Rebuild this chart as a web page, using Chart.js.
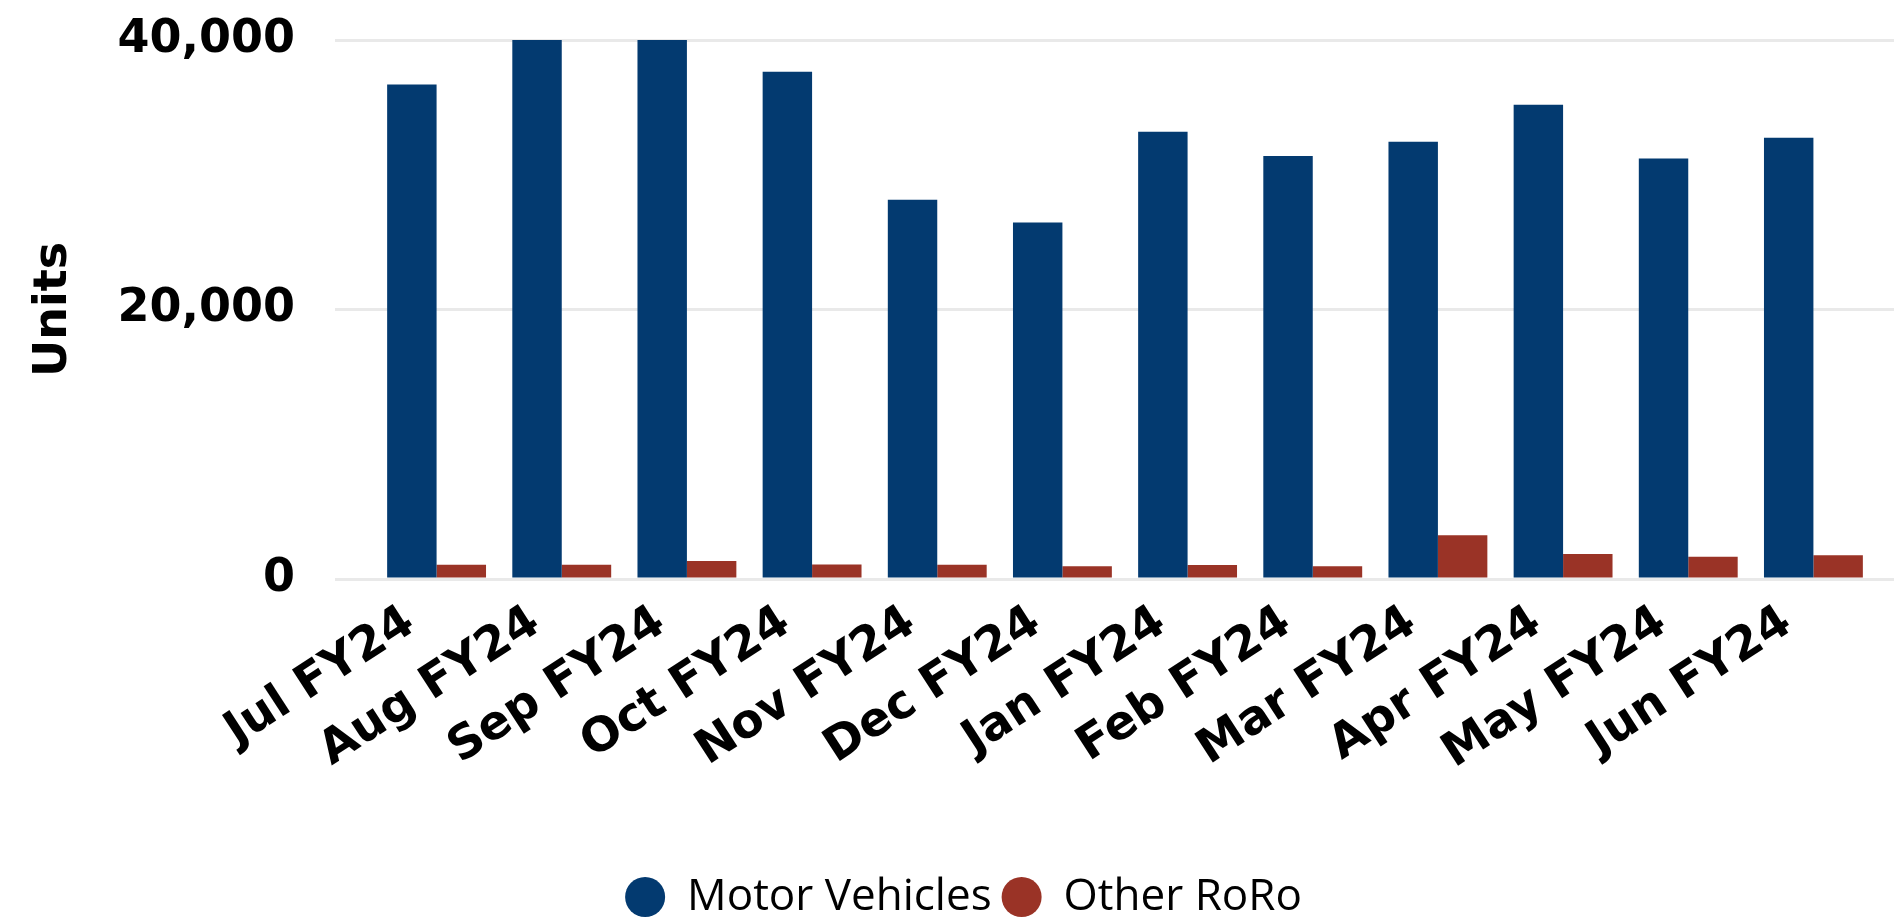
<!DOCTYPE html>
<html>
<head>
<meta charset="utf-8">
<title>Motor Vehicles / Other RoRo</title>
<script src="https://cdn.jsdelivr.net/npm/chart.js@4/dist/chart.umd.min.js"></script>
<style>
    html, body { margin: 0; padding: 0; background: #ffffff; }
    #wrap { width: 1894px; height: 922px; position: relative; }
</style>
</head>
<body>
<div id="wrap"><canvas id="chart1"></canvas></div>
<script>
// Dados do gráfico
const months = ['Jul FY24', 'Aug FY24', 'Sep FY24', 'Oct FY24', 'Nov FY24', 'Dec FY24',
    'Jan FY24', 'Feb FY24', 'Mar FY24', 'Apr FY24', 'May FY24', 'Jun FY24'];
const motorVehicles = [36700, 40150, 40150, 37650, 28150, 26450, 33200, 31400, 32450, 35200, 31200, 32750];
const otherRoro = [1050, 1050, 1330, 1070, 1050, 950, 1030, 940, 3250, 1850, 1650, 1760];
const yTicks = [0, 20000, 40000];

// Cores
const blue = '#033a70';
const red = '#9a3326';
const gridColor = '#e9e9e9';

// largura fixa dos eixos verticais (sem o padding extra dos rótulos)
function fixWidth(w) {
    return function (scale) {
        scale.width = w;
        scale.paddingTop = 0;
        scale.paddingBottom = 0;
    };
}

document.addEventListener('DOMContentLoaded', function () {
    const chart_1 = document.getElementById('chart1');

    new Chart(chart_1, {
        type: 'bar',
        data: {
            labels: months,
            datasets: [{
                label: 'Motor Vehicles',
                data: motorVehicles,
                backgroundColor: blue,
                borderWidth: 0,
            }, {
                label: 'Other RoRo',
                data: otherRoro,
                backgroundColor: red,
                borderWidth: 0,
            }],
        },
        options: {
            responsive: true,
            maintainAspectRatio: false,
            animation: false,
            datasets: {
                bar: {
                    categoryPercentage: 0.79,
                    barPercentage: 1.0
                }
            },
            layout: {
                padding: { top: 40, left: 33, right: 0, bottom: -7 }
            },
            scales: {
                x: {
                    grid: { display: false },
                    border: { display: false },
                    ticks: {
                        autoSkip: false,
                        minRotation: 33,
                        maxRotation: 33,
                        padding: 8,
                        labelOffset: -26,
                        color: '#000000',
                        font: { family: 'DejaVu Sans', weight: 'bold', size: 47 }
                    },
                    afterFit: function (scale) { scale.height = 286; }
                },
                y: {
                    min: yTicks[0],
                    max: yTicks[yTicks.length - 1],
                    afterBuildTicks: function (scale) {
                        scale.ticks = yTicks.map(v => ({ value: v }));
                    },
                    grid: {
                        color: gridColor,
                        lineWidth: 3,
                        drawTicks: true,
                        tickLength: 39,
                        tickColor: gridColor,
                        tickWidth: 3
                    },
                    border: { display: false },
                    ticks: {
                        padding: 40,
                        color: '#000000',
                        font: { family: 'DejaVu Sans', weight: 'bold', size: 46, lineHeight: 1.2 }
                    },
                    title: {
                        display: true,
                        text: 'Units',
                        color: '#000000',
                        padding: { top: -2, bottom: 0 },
                        font: { family: 'DejaVu Sans', weight: 'bold', size: 46, lineHeight: 1 }
                    },
                    afterFit: fixWidth(341)
                },
                // eixo extra só para esticar as linhas de grade até a borda direita
                yRight: {
                    position: 'right',
                    display: true,
                    min: yTicks[0],
                    max: yTicks[yTicks.length - 1],
                    afterBuildTicks: function (scale) {
                        scale.ticks = yTicks.map(v => ({ value: v }));
                    },
                    grid: {
                        color: gridColor,
                        lineWidth: 3,
                        drawTicks: true,
                        tickLength: 18,
                        tickColor: gridColor,
                        tickWidth: 3
                    },
                    border: { display: false },
                    ticks: { display: false },
                    afterFit: fixWidth(18)
                }
            },
            plugins: {
                legend: {
                    position: 'bottom',
                    labels: {
                        usePointStyle: true,
                        pointStyle: 'circle',
                        boxHeight: 28.3,
                        pointStyleWidth: 40,
                        padding: 10,
                        color: '#000000',
                        font: { family: 'Open Sans', size: 44 }
                    }
                },
                tooltip: { enabled: false }
            }
        }
    });
});
</script>
</body>
</html>
